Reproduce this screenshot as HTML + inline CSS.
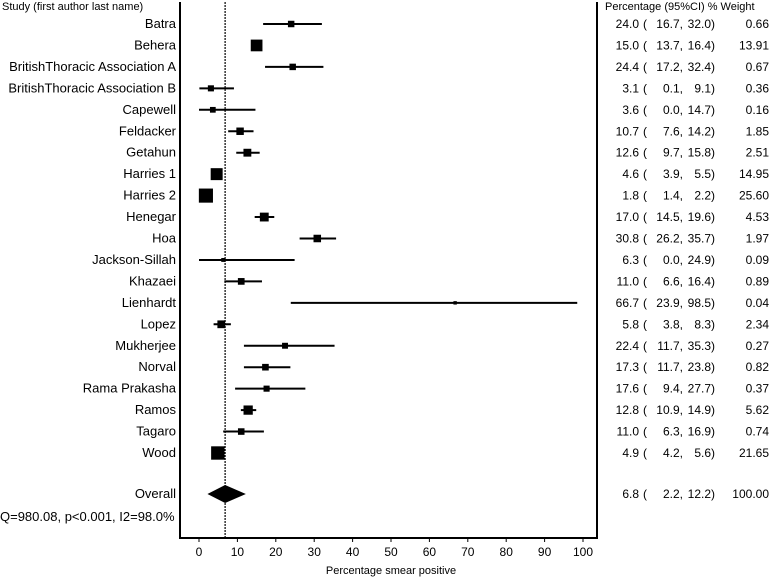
<!DOCTYPE html>
<html><head><meta charset="utf-8">
<style>
body{margin:0;background:#fff;width:778px;height:579px;overflow:hidden;font-family:"Liberation Sans",sans-serif}
svg text{font-family:"Liberation Sans",sans-serif;font-size:11px;fill:#000}
svg text.big{font-size:13px}
svg text.num{font-size:12px}
</style></head><body>
<svg id="c" width="778" height="579"></svg>
<script>
const studies=["Batra","Behera","BritishThoracic Association A","BritishThoracic Association B","Capewell","Feldacker","Getahun","Harries 1","Harries 2","Henegar","Hoa","Jackson-Sillah","Khazaei","Lienhardt","Lopez","Mukherjee","Norval","Rama Prakasha","Ramos","Tagaro","Wood"];
const est=[24.0,15.0,24.4,3.1,3.6,10.7,12.6,4.6,1.8,17.0,30.8,6.3,11.0,66.7,5.8,22.4,17.3,17.6,12.8,11.0,4.9];
const lo=[16.7,13.7,17.2,0.1,0.0,7.6,9.7,3.9,1.4,14.5,26.2,0.0,6.6,23.9,3.8,11.7,11.7,9.4,10.9,6.3,4.2];
const hi=[32.0,16.4,32.4,9.1,14.7,14.2,15.8,5.5,2.2,19.6,35.7,24.9,16.4,98.5,8.3,35.3,23.8,27.7,14.9,16.9,5.6];
const wt=[0.66,13.91,0.67,0.36,0.16,1.85,2.51,14.95,25.60,4.53,1.97,0.09,0.89,0.04,2.34,0.27,0.82,0.37,5.62,0.74,21.65];
const overall=[6.8,2.2,12.2];
const ticks=[0,10,20,30,40,50,60,70,80,90,100];
const S=document.getElementById('c'),NS='http://www.w3.org/2000/svg';
const X=v=>199+v*3.84, Y=i=>24+i*21.45;
function el(t,a,txt){const e=document.createElementNS(NS,t);for(const k in a)e.setAttribute(k,a[k]);if(txt!==undefined)e.textContent=txt;S.appendChild(e);return e;}
const f=v=>v.toFixed(1);
let e;
e=el('line',{x1:180,y1:2,x2:180,y2:538,stroke:'#000','stroke-width':2});
e=el('line',{x1:597,y1:2,x2:597,y2:538,stroke:'#000','stroke-width':2});
e=el('line',{x1:179,y1:538,x2:598,y2:538,stroke:'#000','stroke-width':2});
e=el('line',{x1:X(overall[0]),y1:2,x2:X(overall[0]),y2:538,stroke:'#000','stroke-width':1.2,'stroke-dasharray':'2,1'});
ticks.forEach(t=>{e=el('line',{x1:X(t),y1:538,x2:X(t),y2:542,stroke:'#000'});
e=el('text',{x:X(t),y:556,'text-anchor':'middle','class':'num'},t);});
e=el('text',{x:X(50),y:574,'text-anchor':'middle'},'Percentage smear positive');
e=el('text',{x:2,y:10},'Study (first author last name)');
e=el('text',{x:605,y:10},'Percentage (95%CI) % Weight');
function row(y,label,a,b,c,w,name){
 e=el('text',{x:176,y:y+4,'text-anchor':'end','class':'big'},label);
 e=el('text',{x:639,y:y+4,'text-anchor':'end','class':'num'},f(a));
 e=el('text',{x:643,y:y+4,'class':'num'},'(');
 e=el('text',{x:683,y:y+4,'text-anchor':'end','class':'num'},f(b)+',');
 e=el('text',{x:715,y:y+4,'text-anchor':'end','class':'num'},f(c)+')');
 e=el('text',{x:769,y:y+4,'text-anchor':'end','class':'num'},w.toFixed(2));
}
studies.forEach((s,i)=>{const y=Y(i);const n='study-'+(i+1);
 e=el('line',{x1:X(lo[i]),y1:y,x2:X(hi[i]),y2:y,stroke:'#000','stroke-width':2});
 const sz=wt[i]<0.1?3+wt[i]*10:5+1.8*Math.sqrt(wt[i]);
 e=el('rect',{x:X(est[i])-sz/2,y:y-sz/2,width:sz,height:sz,fill:'#000'});
 row(y,s,est[i],lo[i],hi[i],wt[i],n);});
const oy=494;
e=el('polygon',{points:`${X(overall[1])},${oy} ${X(overall[0])},${oy-9} ${X(overall[2])},${oy} ${X(overall[0])},${oy+9}`,fill:'#000'});
row(oy,'Overall',overall[0],overall[1],overall[2],100,'overall');
e=el('text',{x:0,y:521,'class':'big'},'Q=980.08, p<0.001, I2=98.0%');
</script>
</body></html>
